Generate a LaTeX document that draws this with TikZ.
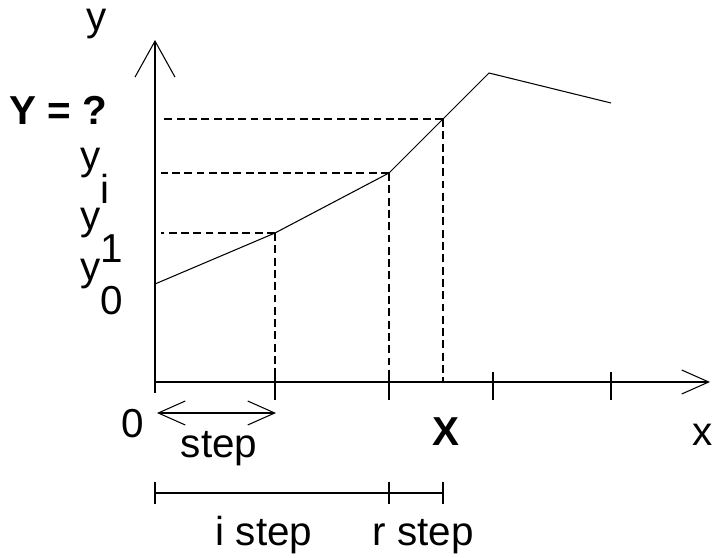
\documentclass[tikz,border=0pt]{standalone}
\usepackage{fontspec}
\setmainfont{Liberation Sans}
\usetikzlibrary{arrows.meta, positioning}
\newcommand{\ysub}[1]{y\raisebox{-0.68cm}{#1}}

\begin{document}
\begin{tikzpicture}[line width=0.6pt, font=\fontsize{23}{27}\selectfont,
    guide/.style={dash pattern=on 4.5pt off 2.5pt},
    barb/.style={-{Straight Barb[length=0.54cm, width=0.48cm]}},
    lab/.style={inner sep=0pt, anchor=base}]
  \useasboundingbox (-3.1,-3.5) rectangle (11.16,7.64);
  % axes
  \coordinate (O) at (0,0);
  \coordinate (ybot) at (0,-0.22);
  \coordinate (ytop) at (0,6.84);
  \coordinate (xend) at (11.1,0);
  \draw[-{Straight Barb[length=0.72cm, width=0.8cm]}] (ybot) -- (ytop);
  \draw[barb] (O) -- (xend);
  \foreach \tx in {2.4, 4.68, 6.76, 9.12}
    \draw (\tx,0.2) -- (\tx,-0.36);
  % piecewise linear curve
  \coordinate (p0) at (0,1.96);
  \coordinate (p1) at (2.4,2.98);
  \coordinate (p2) at (4.68,4.18);
  \coordinate (p3) at (5.76,5.26);
  \coordinate (p4) at (6.68,6.18);
  \coordinate (p5) at (9.12,5.58);
  \draw (p0) -- (p1) -- (p2) -- (p3) -- (p4) -- (p5);
  % guide lines to the axes
  \coordinate (gx) at (0.12,0);
  \foreach \p in {p1, p2, p3} {
    \draw[guide] (\p) -- (\p |- O);
    \draw[guide] (\p) -- (\p -| gx);
  }
  % step arrow
  \coordinate (s0) at (0.04,-0.62);
  \coordinate (s1) at (2.42,-0.62);
  \draw[{Straight Barb[length=0.54cm, width=0.48cm]}-{Straight Barb[length=0.54cm, width=0.48cm]}] (s0) -- (s1);
  % i step + r step
  \coordinate (d0) at (0,-2.22);
  \coordinate (d1) at (4.68,-2.22);
  \coordinate (d2) at (5.76,-2.22);
  \draw (d0) -- (d2);
  \foreach \d in {d0, d1, d2}
    \draw ([yshift=0.22cm]\d) -- ([yshift=-0.22cm]\d);
  % labels
  \node[lab] (ylab) at (-1.16,7.02) {y};
  \node[lab, anchor=base east] (Ylab) at (-0.94,5.14) {\textbf{Y = ?}};
  \node[lab, anchor=base west] (yi) at (-1.5,4.24) {\ysub{i}};
  \node[lab, anchor=base west] (y1) at (-1.5,3.06) {\ysub{1}};
  \node[lab, anchor=base west] (y0) at (-1.5,2.04) {\ysub{0}};
  \node[lab, anchor=base east] (zero) at (-0.2,-1.1) {0};
  \node[lab] (steplab) at (1.28,-1.5) {step};
  \node[lab] (Xlab) at (5.82,-1.26) {\textbf{X}};
  \node[lab] (xlab) at (10.96,-1.26) {x};
  \node[lab] (istep) at (2.18,-3.26) {i step};
  \node[lab] (rstep) at (5.36,-3.26) {r step};
\end{tikzpicture}
\end{document}
